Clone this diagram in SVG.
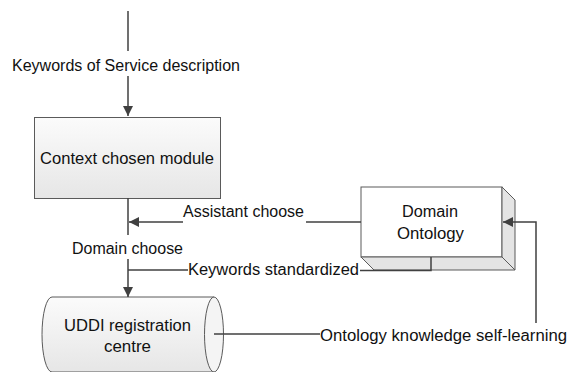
<svg xmlns="http://www.w3.org/2000/svg" width="571" height="372" viewBox="0 0 571 372">
<style>
text{font-family:"Liberation Sans",Arial,sans-serif;font-size:16px;fill:#111}
.ln{fill:none;stroke:#404040;stroke-width:1.5}
.sh{stroke:#5a5a5a;stroke-width:1}
</style>
<defs>
<linearGradient id="g1" x1="0" y1="0" x2="0" y2="1"><stop offset="0" stop-color="#fbfbfb"/><stop offset="1" stop-color="#e6e6e6"/></linearGradient>
<marker id="ar" viewBox="0 0 10 10" refX="10" refY="5" markerWidth="10" markerHeight="10" markerUnits="userSpaceOnUse" orient="auto"><path d="M0,0 L10,5 L0,10 z" fill="#404040"/></marker>
</defs>
<rect width="571" height="372" fill="#fff"/>
<g id="context">
<rect x="34.5" y="117.5" width="186" height="81" fill="url(#g1)" class="sh"/>
<text x="40" y="164" textLength="174" lengthAdjust="spacingAndGlyphs">Context chosen module</text>
</g>
<g id="ontology">
<rect x="361" y="187" width="141" height="70" fill="#fff" class="sh"/>
<path d="M502,187 L515,200 L515,270 L502,257 Z" fill="#e4e4e4" class="sh"/>
<path d="M361,257 L502,257 L515,270 L374,270 Z" fill="#e4e4e4" class="sh"/>
<text x="402" y="217" textLength="56" lengthAdjust="spacingAndGlyphs">Domain</text>
<text x="397" y="239" textLength="67" lengthAdjust="spacingAndGlyphs">Ontology</text>
</g>
<g id="uddi">
<path d="M52,297 H214 V372 H52 A10,37.5 0 0 1 52,297 Z" fill="url(#g1)" stroke="none"/>
<path d="M214,297 H52 A10,37.5 0 0 0 52,372 H214" fill="none" class="sh"/>
<ellipse cx="214" cy="334.5" rx="9.5" ry="37.5" fill="#f4f4f4" class="sh"/>
<text x="64" y="331" textLength="127" lengthAdjust="spacingAndGlyphs">UDDI registration</text>
<text x="104" y="352" textLength="47" lengthAdjust="spacingAndGlyphs">centre</text>
</g>
<g id="connectors">
<line class="ln" x1="128" y1="11" x2="128" y2="51"/>
<line class="ln" x1="128" y1="76" x2="128" y2="116" marker-end="url(#ar)"/>
<line class="ln" x1="128" y1="198" x2="128" y2="235"/>
<line class="ln" x1="128" y1="259" x2="128" y2="297" marker-end="url(#ar)"/>
<line class="ln" x1="183" y1="222" x2="129" y2="222" marker-end="url(#ar)"/>
<line class="ln" x1="306" y1="222" x2="361" y2="222"/>
<line class="ln" x1="128" y1="270" x2="188" y2="270"/>
<path class="ln" d="M431,257 V270.5 H360"/>
<line class="ln" x1="214" y1="334" x2="320" y2="334"/>
<path class="ln" d="M536,323 V222 H503" marker-end="url(#ar)"/>
</g>
<g id="labels">
<text x="12" y="71" textLength="228" lengthAdjust="spacingAndGlyphs">Keywords of Service description</text>
<text x="183" y="217" textLength="121" lengthAdjust="spacingAndGlyphs">Assistant choose</text>
<text x="72" y="254" textLength="111" lengthAdjust="spacingAndGlyphs">Domain choose</text>
<text x="188" y="275" textLength="171" lengthAdjust="spacingAndGlyphs">Keywords standardized</text>
<text x="320" y="341" textLength="247" lengthAdjust="spacingAndGlyphs">Ontology knowledge self-learning</text>
</g>
</svg>
